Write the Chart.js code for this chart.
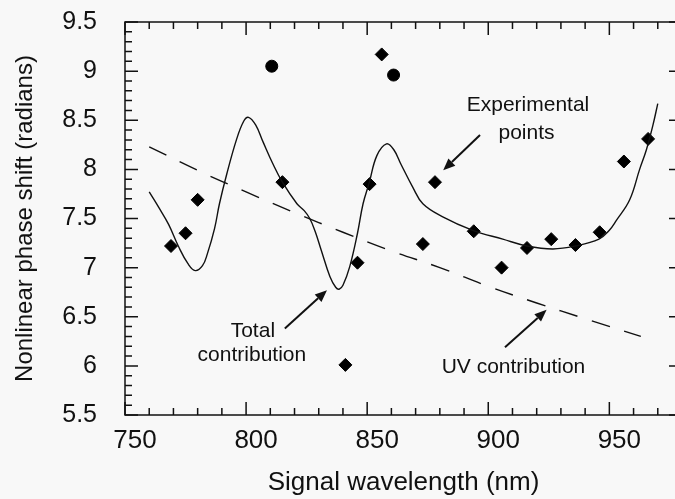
<!DOCTYPE html>
<html>
<head>
<meta charset="utf-8">
<script src="https://cdn.jsdelivr.net/npm/chart.js@4/dist/chart.umd.min.js"></script>
<style>
  html, body { margin: 0; padding: 0; background: #f8f8f8; overflow: hidden; }
  #wrap { width: 690px; height: 499px; }
</style>
</head>
<body>
<div id="wrap"><canvas id="grafico"></canvas></div>
<script>
// experimental points (diamonds)
const expWl = [769, 775, 780, 815, 841, 846, 851, 856, 873, 878, 894, 905.5, 916, 926, 936, 946, 956, 966];
const expPhase = [7.22, 7.35, 7.69, 7.87, 6.01, 7.05, 7.85, 9.17, 7.24, 7.87, 7.37, 7.00, 7.20, 7.29, 7.23, 7.36, 8.08, 8.31];

// the two round points
const dotWl = [810.6, 860.9];
const dotPhase = [9.05, 8.96];

// total contribution (solid curve)
const totalWl = [760, 764, 768, 772, 776, 779, 782, 784, 787, 789, 792, 796, 799, 801, 804, 807, 811, 815,
  821, 824, 826.3, 828.5, 831, 834.6, 837, 838.4, 840, 842.8, 846, 848.3, 850.8, 854, 858, 861, 864,
  868.8, 873, 881, 893.6, 906, 916, 926.7, 936, 945.7, 950, 952.9, 958.4, 962.5, 965.3, 968, 970];
const totalPhase = [7.77, 7.61, 7.44, 7.22, 7.04, 6.97, 7.02, 7.14, 7.40, 7.65, 7.95, 8.30, 8.49, 8.53, 8.45, 8.28, 8.06, 7.87,
  7.65, 7.58, 7.50, 7.37, 7.18, 6.91, 6.80, 6.78, 6.82, 7.01, 7.35, 7.65, 7.86, 8.14, 8.26, 8.20, 8.05,
  7.82, 7.65, 7.52, 7.38, 7.29, 7.22, 7.19, 7.22, 7.29, 7.38, 7.48, 7.69, 8.00, 8.20, 8.45, 8.67];

// UV contribution (dashed)
const uvWl = [760, 780, 800, 820, 840, 860, 880, 900, 920, 940, 963];
const uvPhase = [8.23, 7.99, 7.77, 7.56, 7.36, 7.17, 7.00, 6.81, 6.64, 6.48, 6.30];

const xTicks = [750, 800, 850, 900, 950];
const yTicks = [5.5, 6, 6.5, 7, 7.5, 8, 8.5, 9, 9.5];

// labels and arrows, in data units
const labels = [
  { text: "Experimental", x: 916.4, y: 8.65 },
  { text: "points", x: 915.8, y: 8.37 },
  { text: "Total", x: 802.8, y: 6.35 },
  { text: "contribution", x: 802.4, y: 6.11 },
  { text: "UV contribution", x: 910.4, y: 5.99 }
];
const arrows = [
  { from: [896.6, 8.35], to: [881.4, 7.99] },
  { from: [816.0, 6.38], to: [833.4, 6.77] },
  { from: [906.9, 6.19], to: [924.1, 6.57] }
];

const pares = (xs, ys) => xs.map((x, i) => ({ x: x, y: ys[i] }));
const fuente = "'Liberation Sans', Arial, sans-serif";

// frame with inward ticks on all four sides
const marco = {
  id: "marco",
  afterDraw(chart) {
    const ctx = chart.ctx;
    const a = chart.chartArea;
    const sx = chart.scales.x, sy = chart.scales.y;
    ctx.save();
    ctx.strokeStyle = "#111";
    ctx.lineWidth = 1.5;
    ctx.strokeRect(a.left, a.top, a.right - a.left, a.bottom - a.top);
    ctx.beginPath();
    for (let v = 750; v <= 980; v += 10) {
      const px = sx.getPixelForValue(v);
      const len = v % 50 === 0 ? 13 : 7;
      ctx.moveTo(px, a.bottom); ctx.lineTo(px, a.bottom - len);
      ctx.moveTo(px, a.top); ctx.lineTo(px, a.top + len);
    }
    for (let k = 55; k <= 95; k++) {
      const py = sy.getPixelForValue(k / 10);
      const len = k % 5 === 0 ? 13 : 7;
      ctx.moveTo(a.left, py); ctx.lineTo(a.left + len, py);
      ctx.moveTo(a.right, py); ctx.lineTo(a.right - len, py);
    }
    ctx.stroke();

    // annotations
    ctx.fillStyle = "#111";
    ctx.font = "21px " + fuente;
    ctx.textAlign = "center";
    ctx.textBaseline = "middle";
    labels.forEach(l => {
      ctx.fillText(l.text, sx.getPixelForValue(l.x), sy.getPixelForValue(l.y));
    });
    ctx.lineWidth = 2;
    arrows.forEach(f => {
      const x1 = sx.getPixelForValue(f.from[0]), y1 = sy.getPixelForValue(f.from[1]);
      const x2 = sx.getPixelForValue(f.to[0]), y2 = sy.getPixelForValue(f.to[1]);
      const ang = Math.atan2(y2 - y1, x2 - x1);
      const hl = 12, hw = 5;
      const bx = x2 - hl * Math.cos(ang), by = y2 - hl * Math.sin(ang);
      ctx.beginPath();
      ctx.moveTo(x1, y1); ctx.lineTo(bx, by);
      ctx.stroke();
      ctx.beginPath();
      ctx.moveTo(x2, y2);
      ctx.lineTo(bx + hw * Math.sin(ang), by - hw * Math.cos(ang));
      ctx.lineTo(bx - hw * Math.sin(ang), by + hw * Math.cos(ang));
      ctx.closePath();
      ctx.fill();
    });
    ctx.restore();
  }
};

new Chart(document.getElementById("grafico").getContext("2d"), {
  type: "scatter",
  data: {
    datasets: [
      {
        label: "UV contribution",
        data: pares(uvWl, uvPhase),
        showLine: true,
        borderColor: "#111",
        borderWidth: 1.4,
        borderDash: [19, 15],
        pointRadius: 0,
        tension: 0.4
      },
      {
        label: "Total contribution",
        data: pares(totalWl, totalPhase),
        showLine: true,
        borderColor: "#111",
        borderWidth: 1.4,
        pointRadius: 0,
        tension: 0.4
      },
      {
        label: "Experimental points",
        data: pares(expWl, expPhase),
        pointStyle: "rectRot",
        pointRadius: 6.5,
        backgroundColor: "#000",
        borderColor: "#000",
        borderWidth: 1
      },
      {
        label: "Points",
        data: pares(dotWl, dotPhase),
        pointStyle: "circle",
        pointRadius: 6,
        backgroundColor: "#000",
        borderColor: "#000",
        borderWidth: 1
      }
    ]
  },
  options: {
    responsive: true,
    maintainAspectRatio: false,
    animation: false,
    layout: { padding: { top: 22, right: 8, left: 0, bottom: 0 } },
    plugins: { legend: { display: false }, tooltip: { enabled: false } },
    scales: {
      x: {
        type: "linear",
        min: 750,
        max: 980,
        afterFit: s => { s.height = 84; },
        afterBuildTicks: s => { s.ticks = xTicks.map(v => ({ value: v })); },
        grid: { display: false, drawTicks: false },
        border: { display: false },
        ticks: { color: "#111", font: { family: fuente, size: 26 }, padding: 10, labelOffset: 10 },
        title: { display: true, text: "Signal wavelength (nm)", color: "#111", font: { family: fuente, size: 26 }, padding: { top: 0, bottom: 1 } }
      },
      y: {
        type: "linear",
        min: 5.5,
        max: 9.5,
        afterFit: s => { s.width = 125; s.paddingTop = 0; s.paddingBottom = 0; },
        afterBuildTicks: s => { s.ticks = yTicks.map(v => ({ value: v })); },
        grid: { display: false, drawTicks: false },
        border: { display: false },
        ticks: { color: "#111", font: { family: fuente, size: 25 }, padding: 28, callback: v => String(v) },
        title: { display: true, text: "Nonlinear phase shift (radians)", color: "#111", font: { family: fuente, size: 24 }, padding: { top: 11, bottom: 0 } }
      }
    }
  },
  plugins: [marco]
});
</script>
</body>
</html>
